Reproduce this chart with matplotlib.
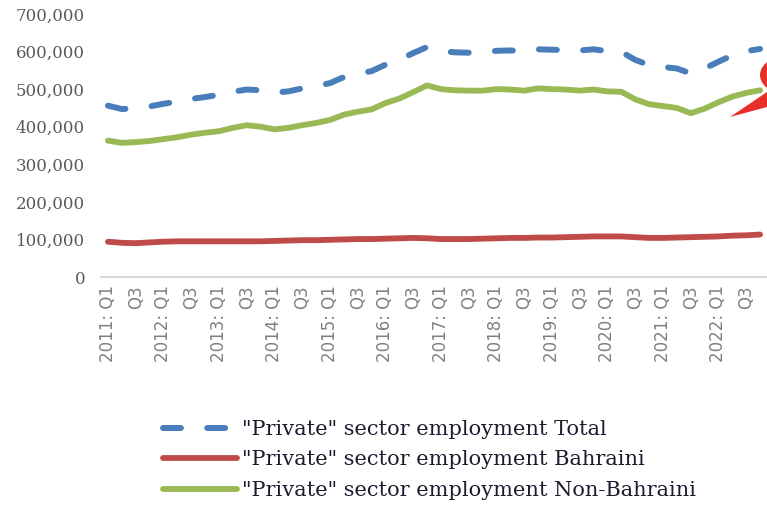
import matplotlib
matplotlib.use("Agg")
import matplotlib.pyplot as plt
from matplotlib.patches import Polygon, Ellipse
from matplotlib.lines import Line2D
from matplotlib.ticker import FuncFormatter

years = list(range(2011, 2023))
quarters = [f"{y}: Q{q}" for y in years for q in (1, 2, 3, 4)]

total = [456, 447, 449, 454, 461, 467, 474, 479, 485, 493, 499, 497,
         491, 494, 502, 508, 516, 532, 541, 548, 565, 578, 596, 612,
         601, 598, 597, 598, 602, 603, 601, 606, 605, 604, 603, 606,
         601, 599, 578, 564, 559, 555, 542, 555, 573, 590, 601, 607]
bahraini = [94, 91, 90, 92, 94, 95, 95, 95, 95, 95, 95, 95,
            96, 97, 98, 98, 99, 100, 101, 101, 102, 103, 104, 103,
            101, 101, 101, 102, 103, 104, 104, 105, 105, 106, 107, 108,
            108, 108, 106, 104, 104, 105, 106, 107, 108, 110, 111, 113]
non_bahraini = [363, 357, 359, 362, 367, 372, 379, 384, 388, 397, 404, 400,
                393, 397, 404, 410, 418, 432, 440, 446, 463, 475, 492, 510,
                500, 497, 496, 496, 500, 499, 496, 502, 500, 499, 496, 499,
                494, 493, 473, 460, 455, 450, 436, 448, 465, 480, 490, 497]

series_labels = ['"Private" sector employment Total',
                 '"Private" sector employment Bahraini',
                 '"Private" sector employment Non-Bahraini']
colors = ["#4A7EBB", "#BE4B48", "#98B954"]

W, H = 767, 509
fig = plt.figure(figsize=(W / 100, H / 100), dpi=100)
ax = fig.add_axes([101 / W, 1 - 277 / H, 1 - 101 / W, (277 - 14) / H])

x = list(range(len(quarters)))
scale = 1000
dash_kw = dict(color=colors[0], lw=4.3, dashes=(3.0, 4.4), dash_capstyle="round")
l1, = ax.plot(x, [v * scale for v in total], **dash_kw)
l2, = ax.plot(x, [v * scale for v in bahraini], color=colors[1], lw=4.2,
              solid_capstyle="round", solid_joinstyle="round")
l3, = ax.plot(x, [v * scale for v in non_bahraini], color=colors[2], lw=4.2,
              solid_capstyle="round", solid_joinstyle="round")

ax.set_xlim(-0.5, len(quarters) - 0.5)
ax.set_ylim(0, 700000)
ax.set_yticks(range(0, 700001, 100000))
ax.yaxis.set_major_formatter(FuncFormatter(lambda v, p: f"{int(v):,}"))
for lab in ax.get_yticklabels():
    lab.set_fontfamily("DejaVu Serif")
ax.tick_params(axis="y", length=0, pad=11.5, labelsize=12, labelcolor="#595959")

tick_pos = x[::2]
tick_lab = [q if q.endswith("Q1") else "Q3" for q in quarters[::2]]
ax.set_xticks(tick_pos)
ax.set_xticklabels(tick_lab, rotation=90, fontsize=12, color="#808080",
                   fontfamily="DejaVu Sans")
ax.tick_params(axis="x", length=0, pad=6)

for s in ["top", "right", "left"]:
    ax.spines[s].set_visible(False)
ax.spines["bottom"].set_color("#D9D9D9")
ax.spines["bottom"].set_linewidth(1.5)

h1 = Line2D([], [], **dash_kw)
h2 = Line2D([], [], color=colors[1], lw=4.2, solid_capstyle="round")
h3 = Line2D([], [], color=colors[2], lw=4.2, solid_capstyle="round")
leg = fig.legend([h1, h2, h3], series_labels, loc="upper left",
                 bbox_to_anchor=(163 / W, 1 - 420 / H), frameon=False,
                 borderpad=0, borderaxespad=0, handlelength=3.55,
                 handletextpad=0.25, labelspacing=0.55, alignment="left",
                 prop={"family": "DejaVu Serif", "size": 15})
for t in leg.get_texts():
    t.set_color("#1E1B2E")

def px(xp, yp):
    return (xp / W, 1 - yp / H)

tail = Polygon([px(730, 117), px(767, 92), px(767, 107)], closed=True,
               transform=fig.transFigure, color="#E8302A", lw=0)
fig.add_artist(tail)
ring = Ellipse(px(790, 75), 53 / W, 33 / H, transform=fig.transFigure,
               fill=False, edgecolor="#E8302A", lw=5)
fig.add_artist(ring)

fig.savefig("out.png", dpi=100)
